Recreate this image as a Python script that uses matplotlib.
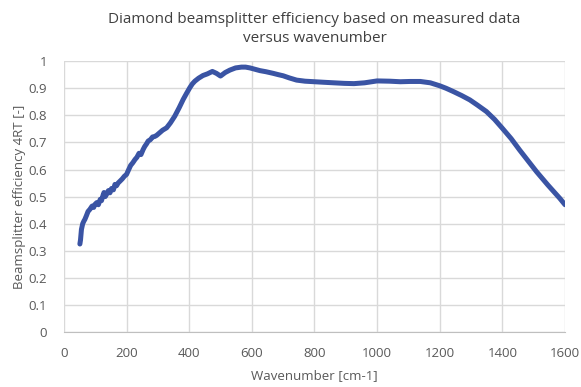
import matplotlib.pyplot as plt
import numpy as np

plt.rcParams['font.family'] = ['Open Sans', 'DejaVu Sans']

wavenumber = [51, 53, 56, 60, 64, 67, 72, 77, 83, 90, 95, 99, 105, 110, 116, 120,
              125, 128, 132, 137, 142, 147, 152, 158, 163, 168, 173, 180, 186, 193,
              200, 207, 213, 220, 227, 233, 240, 246, 253, 258, 264, 269, 276, 283,
              290, 296, 305, 315, 328, 340, 354, 368, 381, 392, 402, 410, 418, 430,
              444, 458, 474, 487, 500, 515, 530, 548, 567, 580, 594, 610, 626, 645,
              668, 685, 700, 720, 743, 770, 800, 830, 862, 895, 926, 960, 1000, 1040,
              1074, 1105, 1138, 1170, 1200, 1220, 1243, 1270, 1296, 1320, 1349, 1375,
              1400, 1428, 1455, 1482, 1509, 1545, 1583, 1600]
efficiency = [0.325, 0.34, 0.379, 0.40, 0.41, 0.416, 0.43, 0.445, 0.453, 0.465, 0.46,
              0.471, 0.478, 0.47, 0.49, 0.485, 0.505, 0.515, 0.50, 0.51, 0.522, 0.514,
              0.53, 0.525, 0.545, 0.54, 0.55, 0.558, 0.565, 0.575, 0.582, 0.60, 0.615,
              0.625, 0.637, 0.645, 0.66, 0.655, 0.674, 0.685, 0.695, 0.705, 0.71, 0.72,
              0.722, 0.726, 0.735, 0.745, 0.754, 0.772, 0.797, 0.828, 0.859, 0.882,
              0.902, 0.916, 0.926, 0.937, 0.947, 0.953, 0.962, 0.955, 0.945, 0.958,
              0.967, 0.975, 0.978, 0.978, 0.975, 0.97, 0.965, 0.961, 0.955, 0.95,
              0.946, 0.938, 0.930, 0.926, 0.924, 0.922, 0.920, 0.918, 0.917, 0.92,
              0.927, 0.926, 0.924, 0.925, 0.925, 0.92, 0.909, 0.9, 0.888, 0.873,
              0.857, 0.838, 0.814, 0.785, 0.752, 0.714, 0.672, 0.632, 0.592, 0.543,
              0.494, 0.47]

text_color = '#595959'

fig = plt.figure(figsize=(5.81, 3.87), dpi=100)
ax = fig.add_axes([0.110, 0.142, 0.8625, 0.700])

ax.plot(wavenumber, efficiency, color='#3A54A4', lw=3.6, solid_capstyle='round',
        solid_joinstyle='round')

ax.set_xlim(0, 1600)
ax.set_ylim(0, 1)
ax.set_xticks(np.arange(0, 1601, 200))
ax.set_yticks(np.arange(0, 1.01, 0.1))
ax.set_yticklabels(['0', '0.1', '0.2', '0.3', '0.4', '0.5', '0.6', '0.7', '0.8', '0.9', '1'])
ax.grid(True, color='#D9D9D9', lw=1)
ax.set_axisbelow(True)
for s in ['top', 'right', 'left']:
    ax.spines[s].set_visible(False)
ax.spines['bottom'].set_color('#BFBFBF')
ax.tick_params(axis='x', length=0, labelsize=9.5, colors=text_color, pad=11)
ax.tick_params(axis='y', length=0, labelsize=9.5, colors=text_color, pad=12)

ax.set_xlabel('Wavenumber [cm-1]', fontsize=9.5, color=text_color, labelpad=6)
ax.set_ylabel('Beamsplitter efficiency 4RT [-]', fontsize=9.5, color=text_color, labelpad=2)
ax.set_title('Diamond beamsplitter efficiency based on measured data\nversus wavenumber',
             fontsize=11, color='#404040', pad=14, linespacing=1.3)

fig.savefig('out.png', dpi=100)
